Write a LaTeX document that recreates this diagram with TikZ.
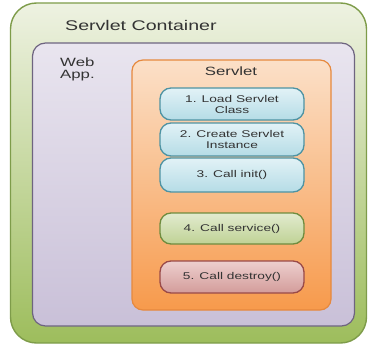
\documentclass[tikz,border=0pt]{standalone}
\usepackage{fontspec}
\usepackage{tikz}
\newfontfamily\diagfont[FakeStretch=1.4]{Liberation Sans}
\definecolor{contline}{HTML}{7E9C4A}
\definecolor{contlite}{HTML}{EEF2E2}
\definecolor{contdark}{HTML}{9DBD5C}
\definecolor{appline}{HTML}{6E6480}
\definecolor{applite}{HTML}{E9E5EF}
\definecolor{appdark}{HTML}{C9C0D8}
\definecolor{srvline}{HTML}{E6893E}
\definecolor{srvlite}{HTML}{FBE0C8}
\definecolor{srvdark}{HTML}{F79A4C}
\definecolor{blueline}{HTML}{4E93A3}
\definecolor{bluelite}{HTML}{E2F2F6}
\definecolor{bluedark}{HTML}{B5DCE6}
\definecolor{grnline}{HTML}{6F8C3E}
\definecolor{grnlite}{HTML}{E2EBCF}
\definecolor{grndark}{HTML}{BFD295}
\definecolor{redline}{HTML}{9A4A48}
\definecolor{redlite}{HTML}{EDCFCE}
\definecolor{reddark}{HTML}{D39C9A}
\tikzstyle{texto}=[inner sep=0pt,text=black!80,font=\diagfont]
\tikzstyle{stepbox}=[draw,line width=1.3pt,rounded corners=11pt,minimum width=144pt,inner sep=0pt,align=center,font=\diagfont\fontsize{9.8}{11}\selectfont,text=black!80]

\begin{document}
\begin{tikzpicture}[x=1pt,y=-1pt]
    \useasboundingbox (0,0) rectangle (369,345);
    % boxes inside one another
    \node [draw=contline,line width=1.4pt,rounded corners=26pt,top color=contlite,bottom color=contdark,
           minimum width=356pt,minimum height=340pt] (container) at (188.5,173) {};
    \node [draw=appline,line width=1.2pt,rounded corners=13pt,top color=applite,bottom color=appdark,
           minimum width=322pt,minimum height=283pt] (webapp) at (193.5,184.5) {};
    \node [draw=srvline,line width=1.2pt,rounded corners=11pt,top color=srvlite,bottom color=srvdark,
           minimum width=199pt,minimum height=250pt] (servlet) at (231.5,185) {};
    \node [texto,anchor=west,font=\diagfont\fontsize{14}{16}\selectfont] (containername) at (65,25) {Servlet Container};
    \node [texto,anchor=north west,align=left,font=\diagfont\fontsize{12}{12}\selectfont] (webappname) at (60,58) {Web\\App.};
    \node [texto,font=\diagfont\fontsize{12}{14}\selectfont] (servletname) at (231,71) {Servlet};
    % life cycle steps
    \node [stepbox,draw=blueline,top color=bluelite,bottom color=bluedark,minimum height=32pt] (load) at (232,104) {1. Load Servlet\\Class};
    \node [stepbox,draw=blueline,top color=bluelite,bottom color=bluedark,minimum height=33pt] (create) at (232,139.5) {2. Create Servlet\\Instance};
    \node [stepbox,draw=blueline,top color=bluelite,bottom color=bluedark,minimum height=34pt] (init) at (232,175) {3. Call init()};
    \node [stepbox,draw=grnline,top color=grnlite,bottom color=grndark,minimum height=31pt] (service) at (232,228.5) {4. Call service()};
    \node [stepbox,draw=redline,top color=redlite,bottom color=reddark,minimum height=32pt] (destroy) at (232,277) {5. Call destroy()};
\end{tikzpicture}
\end{document}
